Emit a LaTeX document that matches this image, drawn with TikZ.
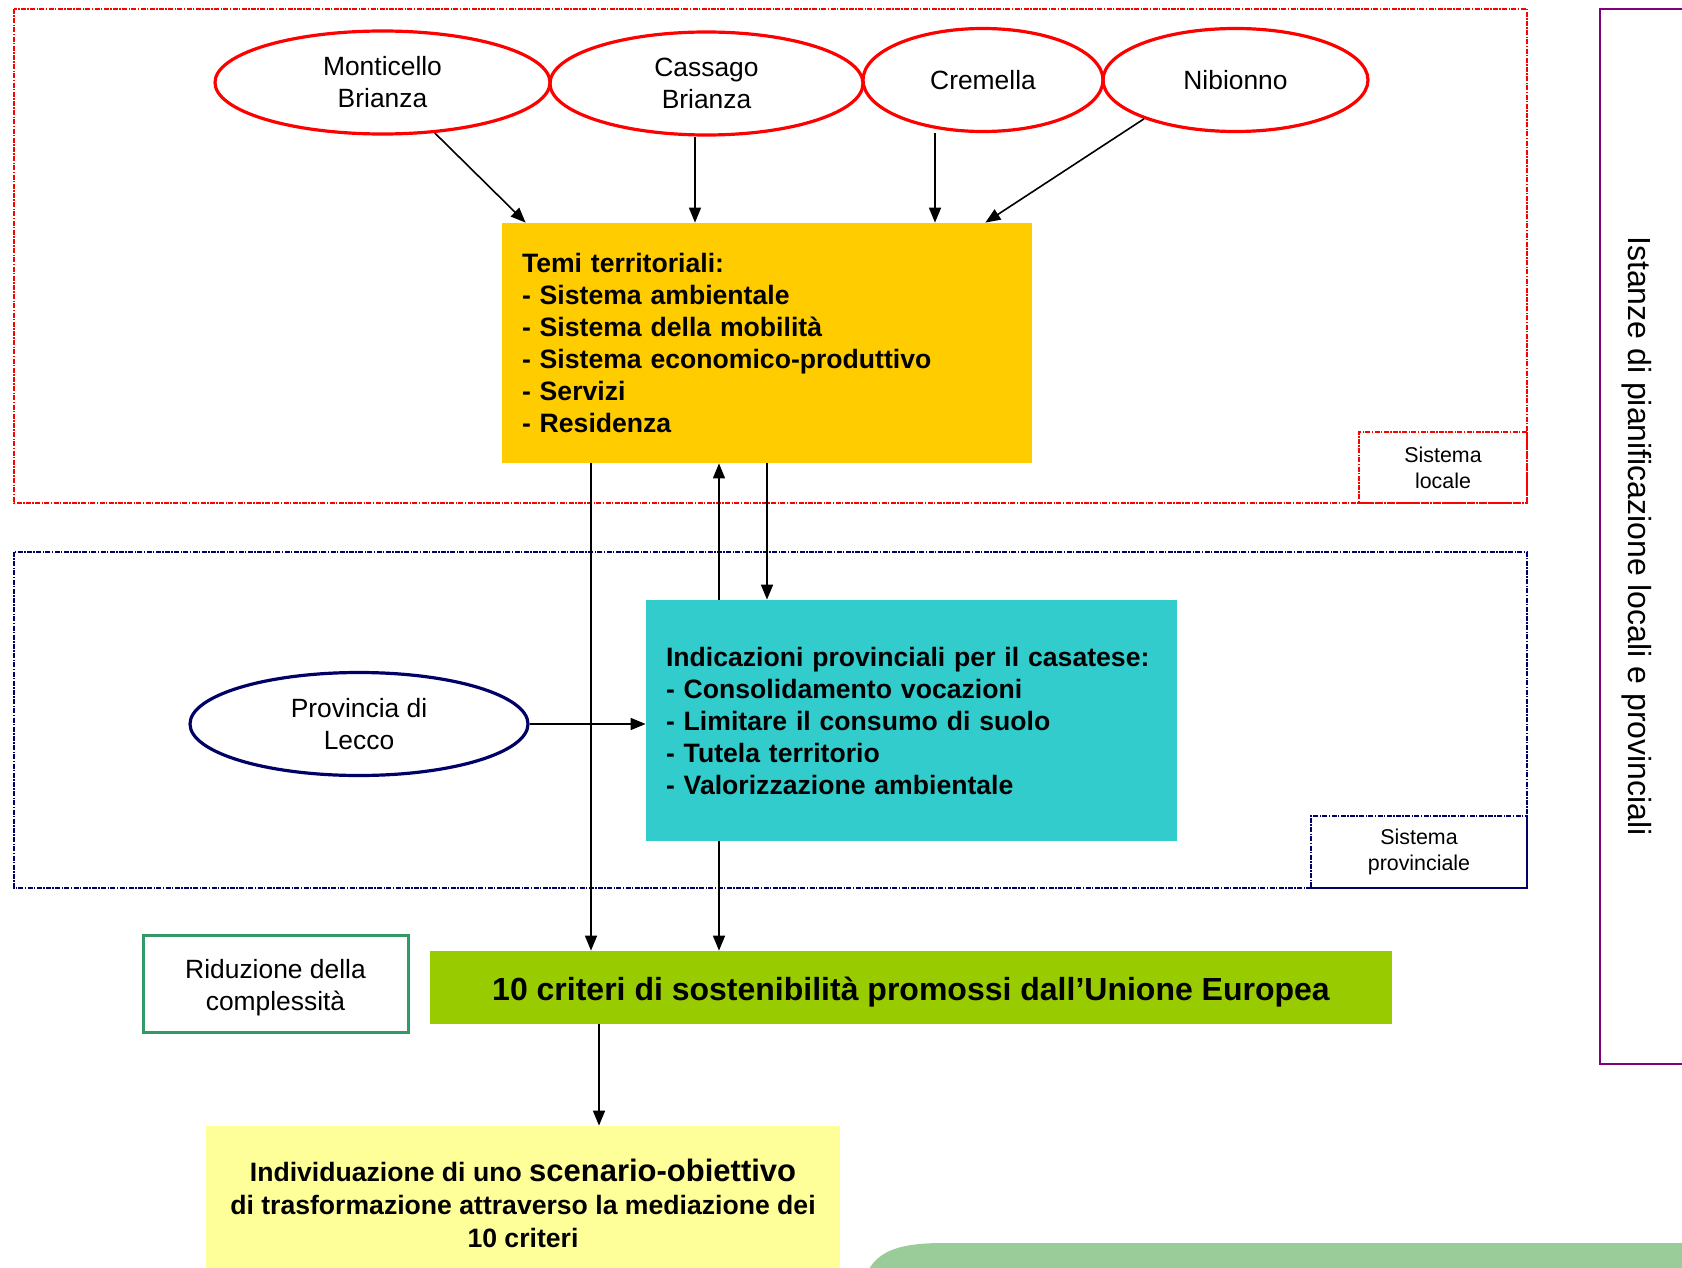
\documentclass[tikz,border=0pt]{standalone}
\usepackage{fontspec}
\setmainfont{Liberation Sans}
\usetikzlibrary{shapes.geometric,arrows.meta,calc}
\definecolor{temiyellow}{HTML}{FFCC00}
\definecolor{tealbox}{HTML}{33CCCC}
\definecolor{barGreen}{HTML}{99CC00}
\definecolor{lightyellow}{HTML}{FFFF99}
\definecolor{botgreen}{HTML}{99CC99}
\definecolor{navy}{HTML}{000066}
\definecolor{purpleline}{HTML}{800080}
\definecolor{borderGreen}{HTML}{339966}
\tikzset{
  town/.style={ellipse, draw=red, line width=1.6pt, inner sep=0pt, minimum width=#1, minimum height=51.5pt, align=center, font=\fontsize{13.2}{16}\selectfont},
  arr/.style={-{Triangle[length=7.5pt,width=6pt]}, line width=0.8pt},
  redzone/.style={draw=red, line width=1pt, dash pattern=on 2.5pt off 0.7pt on 0.7pt off 0.7pt},
  bluezone/.style={draw=navy, line width=1pt, dash pattern=on 2.5pt off 0.7pt on 0.7pt off 0.7pt},
  zonelabel/.style={align=center, inner sep=0pt, font=\fontsize{10.7}{13}\selectfont},
  listbox/.style={inner sep=10pt, text width=245pt, align=left, font=\bfseries\fontsize{13.3}{16}\selectfont},
}
\begin{document}
\begin{tikzpicture}[x=0.5pt,y=-0.5pt]
\useasboundingbox (0,0) rectangle (1682,1268);
% zones
\draw[redzone] (14,9) rectangle (1527,503);
\node[redzone, zonelabel, minimum width=84pt, minimum height=35.5pt] (loc) at (1443,467.5) {Sistema\\locale};
\draw[bluezone] (14,552) rectangle (1527,888);
\node[bluezone, zonelabel, minimum width=108pt, minimum height=36pt] (prv) at (1419,852) {Sistema\\provinciale};
% purple frame
\draw[purpleline, line width=1pt] (1700,9) -- (1600,9) -- (1600,1064) -- (1700,1064);
\node[rotate=-90, font=\fontsize{16}{19}\selectfont] (ist) at (1637,536) {Istanze di pianificazione locali e provinciali};
% towns
\node[town=167.5pt] (mont) at (382.5,82.5) {Monticello\\Brianza};
\node[town=156.5pt] (cass) at (706.5,83.5) {Cassago\\Brianza};
\node[town=120pt] (crem) at (983,80) {Cremella};
\node[town=132.5pt] (nib) at (1235.5,80) {Nibionno};
% temi
\node[listbox, fill=temiyellow, minimum width=265pt, minimum height=120pt] (temi) at (767,343) {Temi territoriali:\\- Sistema ambientale\\- Sistema della mobilità\\- Sistema economico-produttivo\\- Servizi\\- Residenza};
% teal
\node[listbox, fill=tealbox, text width=245.5pt, minimum width=265.5pt, minimum height=120.5pt] (ind) at (911.5,720.5) {Indicazioni provinciali per il casatese:\\- Consolidamento vocazioni\\- Limitare il consumo di suolo\\- Tutela territorio\\- Valorizzazione ambientale};
% provincia
\node[ellipse, draw=navy, line width=1.6pt, inner sep=0pt, minimum width=169pt, minimum height=51.5pt, align=center, font=\fontsize{13.2}{16}\selectfont] (prov) at (359,724) {Provincia di\\Lecco};
% green bar
\node[fill=barGreen, minimum width=481pt, minimum height=36.5pt, inner sep=0pt] (crit) at (911,987.5) {};
\node[font=\bfseries\fontsize{16}{19}\selectfont, inner sep=0pt] (critt) at ($(crit.center)+(0,5)$) {10 criteri di sostenibilità promossi dall’Unione Europea};
% riduzione
\node[draw=borderGreen, line width=1.5pt, minimum width=132.5pt, minimum height=48.5pt, inner sep=0pt] (rid) at (275.5,983.5) {};
\node[align=center, inner sep=0pt, font=\fontsize{13.2}{16}\selectfont] (ridt) at ($(rid.center)+(0,4)$) {Riduzione della\\complessità};
% bottom yellow
\node[fill=lightyellow, minimum width=317pt, minimum height=77pt, inner sep=0pt, align=center, font=\bfseries\fontsize{13.3}{16.5}\selectfont] (scen) at (523,1203) {Individuazione di uno {\fontsize{15.5}{16.5}\selectfont scenario-obiettivo}\\di trasformazione attraverso la mediazione dei\\10 criteri};
% bottom green shape
\fill[botgreen] (862,1290) .. controls (868,1252) and (895,1243) .. (944,1243) -- (1700,1243) -- (1700,1290) -- cycle;
% helper x coordinates
\coordinate (xa) at (695,0);
\coordinate (xb) at (935,0);
\coordinate (xc) at (591,0);
\coordinate (xd) at (719,0);
\coordinate (xe) at (767,0);
\coordinate (xf) at (599,0);
% arrows
\draw[arr] (mont.-44) -- ($(temi.north west)+(24,0)$);
\draw[arr] (cass.south -| xa) -- (temi.north -| xa);
\draw[arr] (crem.south -| xb) -- (temi.north -| xb);
\draw[arr] (nib.-157) -- ($(temi.north east)+(-47,0)$);
\draw[arr] (temi.south -| xc) -- (crit.north -| xc);
\draw[arr] (ind.north -| xd) -- (temi.south -| xd);
\draw[arr] (temi.south -| xe) -- (ind.north -| xe);
\draw[arr] (ind.south -| xd) -- (crit.north -| xd);
\draw[arr] (prov.east) -- (prov.east -| ind.west);
\draw[arr] (crit.south -| xf) -- (scen.north -| xf);
\end{tikzpicture}
\end{document}
